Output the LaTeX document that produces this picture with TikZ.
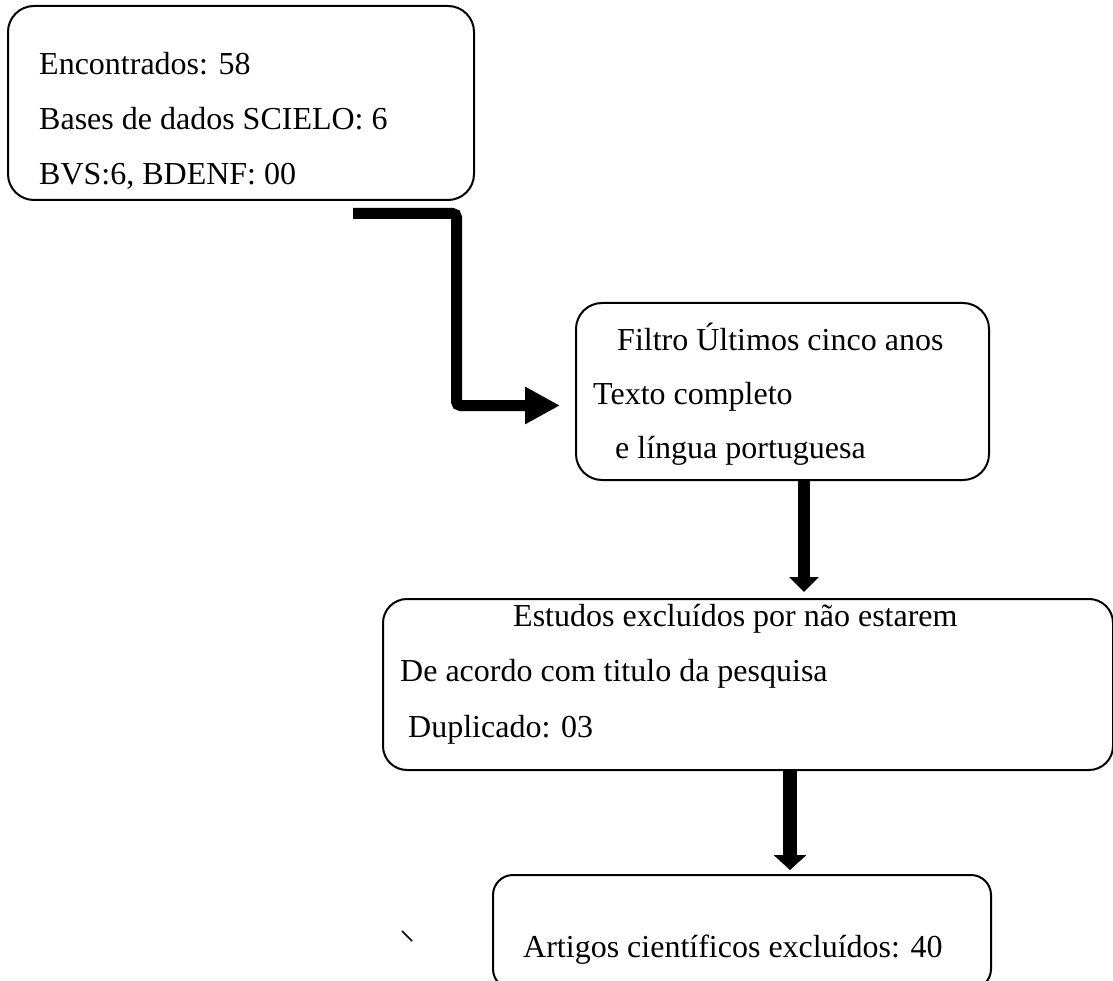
\documentclass[tikz,border=0pt]{standalone}
\usepackage{fontspec}
\setmainfont{Liberation Serif}
\usetikzlibrary{arrows.meta}
\begin{document}
\begin{tikzpicture}[x=1pt,y=-1pt,
  box/.style={draw=black, line width=2pt, rounded corners=#1, inner sep=0pt, anchor=north west},
  box/.default=26pt,
  txt/.style={anchor=base west, inner sep=0pt, font=\fontsize{32}{38}\selectfont},
  fatarrow/.style={line width=#1, draw=black},
  shadowarrow/.style={line width=#1, draw=black!45, opacity=0.35}
]
\useasboundingbox (0,0) rectangle (1113,981);
% boxes
\node[box, minimum width=466pt, minimum height=194pt] (b1) at (7,5) {};
\node[box, minimum width=413pt, minimum height=177pt] (b2) at (575,302) {};
\node[box=24pt, minimum width=730pt, minimum height=171pt] (b3) at (382,598) {};
\node[box=20pt, minimum width=498pt, minimum height=114pt] (b4) at (492,874) {};
% texts
\node[txt] (t11) at (39,75) {Encontrados: 58};
\node[txt] (t12) at (39,130) {Bases de dados SCIELO: 6};
\node[txt] (t13) at (39,185) {BVS:6, BDENF: 00};
\node[txt] (t21) at (617,350) {Filtro Últimos cinco anos};
\node[txt] (t22) at (593,404) {Texto completo};
\node[txt] (t23) at (615,458) {e língua portuguesa};
\node[txt] (t31) at (513,626) {Estudos excluídos por não estarem};
\node[txt] (t32) at (400,681) {De acordo com titulo da pesquisa};
\node[txt] (t33) at (408,737) {Duplicado: 03};
\node[txt] (t41) at (523,957) {Artigos científicos excluídos: 40};
% connector coordinates
\coordinate (a1s) at (353,213.5);
\coordinate (a1c1) at (456.5,213.5);
\coordinate (a1c2) at (456.5,405.5);
\coordinate (a1e) at (560,405.5);
\coordinate (a2s) at (b2.south -| 804,0);
\coordinate (a2e) at (804,592);
\coordinate (a3s) at (b3.south -| 790,0);
\coordinate (a3e) at (790,870);
% shadows
\begin{scope}[shift={(2.5,3)}]
\draw[shadowarrow=11pt, rounded corners=4pt, -{Triangle[length=35pt,width=35pt]}] (a1s) -- (a1c1) -- (a1c2) -- (a1e);
\draw[shadowarrow=12pt, -{Triangle[length=15pt,width=29pt]}] (a2s) -- (a2e);
\draw[shadowarrow=14pt, -{Triangle[length=15pt,width=32pt]}] (a3s) -- (a3e);
\end{scope}
% connectors
\draw[fatarrow=11pt, rounded corners=4pt, -{Triangle[length=35pt,width=35pt]}] (a1s) -- (a1c1) -- (a1c2) -- (a1e);
\draw[fatarrow=12pt, -{Triangle[length=15pt,width=29pt]}] (a2s) -- (a2e);
\draw[fatarrow=14pt, -{Triangle[length=15pt,width=32pt]}] (a3s) -- (a3e);
% stray mark
\coordinate (m1) at (402,931);
\coordinate (m2) at (412,941);
\draw[line width=1.6pt] (m1) -- (m2);
\end{tikzpicture}
\end{document}
